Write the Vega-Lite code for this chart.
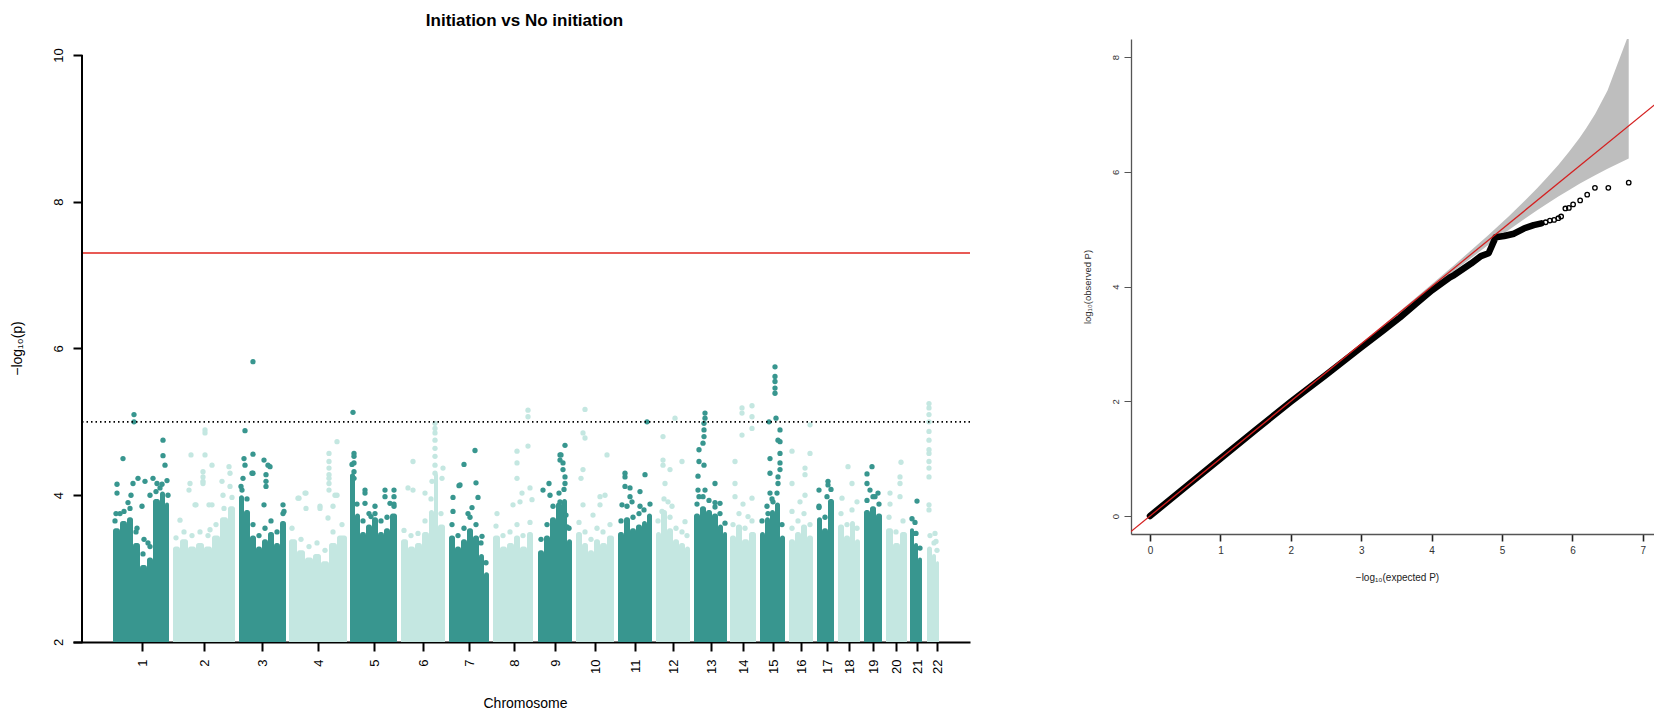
{
"$schema":"https://vega.github.io/schema/vega-lite/v6.json",
"background":"white",
"padding":{"left":10,"top":12,"right":0,"bottom":0},
"spacing":161,
"bounds":"flush",
"align":"none",
"config":{"view":{"stroke":null},"font":"Liberation Sans","axis":{"labelFont":"Liberation Sans","titleFont":"Liberation Sans"},"title":{"font":"Liberation Sans"}},
"datasets":{
"cols":[
{"chr":1,"pos":113,"pos2":120,"p":3.55},{"chr":1,"pos":120,"pos2":127,"p":3.65},{"chr":1,"pos":127,"pos2":133,"p":3.7},{"chr":1,"pos":133,"pos2":140,"p":3.35},{"chr":1,"pos":140,"pos2":147,"p":3.05},{"chr":1,"pos":147,"pos2":153,"p":3.15},{"chr":1,"pos":153,"pos2":160,"p":3.95},{"chr":1,"pos":160,"pos2":165,"p":4.05},{"chr":1,"pos":165,"pos2":169,"p":3.9},
{"chr":2,"pos":173,"pos2":180,"p":3.3},{"chr":2,"pos":180,"pos2":188,"p":3.4},{"chr":2,"pos":188,"pos2":196,"p":3.3},{"chr":2,"pos":196,"pos2":204,"p":3.35},{"chr":2,"pos":204,"pos2":212,"p":3.3},{"chr":2,"pos":212,"pos2":220,"p":3.45},{"chr":2,"pos":220,"pos2":228,"p":3.7},{"chr":2,"pos":228,"pos2":235,"p":3.85},
{"chr":3,"pos":239,"pos2":244,"p":4.0},{"chr":3,"pos":244,"pos2":250,"p":3.8},{"chr":3,"pos":250,"pos2":256,"p":3.45},{"chr":3,"pos":256,"pos2":262,"p":3.3},{"chr":3,"pos":262,"pos2":268,"p":3.4},{"chr":3,"pos":268,"pos2":274,"p":3.5},{"chr":3,"pos":274,"pos2":280,"p":3.35},{"chr":3,"pos":280,"pos2":286,"p":3.65},
{"chr":4,"pos":289,"pos2":297,"p":3.4},{"chr":4,"pos":297,"pos2":305,"p":3.25},{"chr":4,"pos":305,"pos2":313,"p":3.15},{"chr":4,"pos":313,"pos2":321,"p":3.2},{"chr":4,"pos":321,"pos2":329,"p":3.1},{"chr":4,"pos":329,"pos2":337,"p":3.35},{"chr":4,"pos":337,"pos2":347,"p":3.45},
{"chr":5,"pos":350,"pos2":355,"p":4.3},{"chr":5,"pos":355,"pos2":360,"p":3.75},{"chr":5,"pos":360,"pos2":366,"p":3.5},{"chr":5,"pos":366,"pos2":372,"p":3.6},{"chr":5,"pos":372,"pos2":378,"p":3.7},{"chr":5,"pos":378,"pos2":384,"p":3.5},{"chr":5,"pos":384,"pos2":390,"p":3.55},{"chr":5,"pos":390,"pos2":397,"p":3.75},
{"chr":6,"pos":401,"pos2":408,"p":3.4},{"chr":6,"pos":408,"pos2":415,"p":3.3},{"chr":6,"pos":415,"pos2":422,"p":3.35},{"chr":6,"pos":422,"pos2":429,"p":3.5},{"chr":6,"pos":429,"pos2":434,"p":3.8},{"chr":6,"pos":434,"pos2":438,"p":4.3},{"chr":6,"pos":438,"pos2":445,"p":3.6},
{"chr":7,"pos":449,"pos2":455,"p":3.45},{"chr":7,"pos":455,"pos2":461,"p":3.3},{"chr":7,"pos":461,"pos2":467,"p":3.4},{"chr":7,"pos":467,"pos2":473,"p":3.55},{"chr":7,"pos":473,"pos2":479,"p":3.45},{"chr":7,"pos":479,"pos2":484,"p":3.2},{"chr":7,"pos":484,"pos2":489,"p":2.95},
{"chr":8,"pos":493,"pos2":500,"p":3.45},{"chr":8,"pos":500,"pos2":507,"p":3.3},{"chr":8,"pos":507,"pos2":514,"p":3.35},{"chr":8,"pos":514,"pos2":520,"p":3.45},{"chr":8,"pos":520,"pos2":527,"p":3.3},{"chr":8,"pos":527,"pos2":533,"p":3.5},
{"chr":9,"pos":538,"pos2":544,"p":3.25},{"chr":9,"pos":544,"pos2":550,"p":3.45},{"chr":9,"pos":550,"pos2":556,"p":3.7},{"chr":9,"pos":556,"pos2":562,"p":3.9},{"chr":9,"pos":562,"pos2":567,"p":3.95},{"chr":9,"pos":567,"pos2":572,"p":3.4},
{"chr":10,"pos":576,"pos2":582,"p":3.5},{"chr":10,"pos":582,"pos2":588,"p":3.35},{"chr":10,"pos":588,"pos2":594,"p":3.25},{"chr":10,"pos":594,"pos2":600,"p":3.4},{"chr":10,"pos":600,"pos2":607,"p":3.35},{"chr":10,"pos":607,"pos2":614,"p":3.45},
{"chr":11,"pos":618,"pos2":624,"p":3.5},{"chr":11,"pos":624,"pos2":630,"p":3.7},{"chr":11,"pos":630,"pos2":636,"p":3.55},{"chr":11,"pos":636,"pos2":642,"p":3.6},{"chr":11,"pos":642,"pos2":647,"p":3.65},{"chr":11,"pos":647,"pos2":652,"p":3.75},
{"chr":12,"pos":656,"pos2":661,"p":3.5},{"chr":12,"pos":661,"pos2":667,"p":3.8},{"chr":12,"pos":667,"pos2":673,"p":3.55},{"chr":12,"pos":673,"pos2":679,"p":3.4},{"chr":12,"pos":679,"pos2":685,"p":3.35},{"chr":12,"pos":685,"pos2":690,"p":3.3},
{"chr":13,"pos":694,"pos2":700,"p":3.75},{"chr":13,"pos":700,"pos2":706,"p":3.85},{"chr":13,"pos":706,"pos2":712,"p":3.8},{"chr":13,"pos":712,"pos2":718,"p":3.75},{"chr":13,"pos":718,"pos2":723,"p":3.6},{"chr":13,"pos":723,"pos2":727,"p":3.5},
{"chr":14,"pos":730,"pos2":736,"p":3.45},{"chr":14,"pos":736,"pos2":742,"p":3.6},{"chr":14,"pos":742,"pos2":749,"p":3.4},{"chr":14,"pos":749,"pos2":756,"p":3.5},
{"chr":15,"pos":760,"pos2":765,"p":3.5},{"chr":15,"pos":765,"pos2":770,"p":3.7},{"chr":15,"pos":770,"pos2":775,"p":3.8},{"chr":15,"pos":775,"pos2":780,"p":3.9},{"chr":15,"pos":780,"pos2":785,"p":3.45},
{"chr":16,"pos":789,"pos2":795,"p":3.4},{"chr":16,"pos":795,"pos2":801,"p":3.5},{"chr":16,"pos":801,"pos2":807,"p":3.6},{"chr":16,"pos":807,"pos2":813,"p":3.45},
{"chr":17,"pos":817,"pos2":822,"p":3.7},{"chr":17,"pos":822,"pos2":828,"p":3.55},{"chr":17,"pos":828,"pos2":834,"p":3.95},
{"chr":18,"pos":838,"pos2":844,"p":3.6},{"chr":18,"pos":844,"pos2":850,"p":3.45},{"chr":18,"pos":850,"pos2":855,"p":3.65},{"chr":18,"pos":855,"pos2":860,"p":3.4},
{"chr":19,"pos":864,"pos2":870,"p":3.8},{"chr":19,"pos":870,"pos2":876,"p":3.85},{"chr":19,"pos":876,"pos2":882,"p":3.75},
{"chr":20,"pos":886,"pos2":893,"p":3.55},{"chr":20,"pos":893,"pos2":900,"p":3.35},{"chr":20,"pos":900,"pos2":907,"p":3.5},
{"chr":21,"pos":910,"pos2":914,"p":3.55},{"chr":21,"pos":914,"pos2":918,"p":3.35},{"chr":21,"pos":918,"pos2":922,"p":3.15},
{"chr":22,"pos":927,"pos2":932,"p":3.3},{"chr":22,"pos":932,"pos2":936,"p":3.2},{"chr":22,"pos":936,"pos2":939,"p":3.1}
],
"pts":[
{"chr":1,"pos":117,"p":4.15},{"chr":1,"pos":117,"p":4.03},{"chr":1,"pos":120,"p":3.75},{"chr":1,"pos":123,"p":4.5},{"chr":1,"pos":128,"p":3.9},{"chr":1,"pos":131,"p":4.0},{"chr":1,"pos":133,"p":4.16},{"chr":1,"pos":134,"p":5.0},{"chr":1,"pos":134,"p":5.1},{"chr":1,"pos":138,"p":4.23},{"chr":1,"pos":142,"p":3.85},{"chr":1,"pos":145,"p":4.19},{"chr":1,"pos":150,"p":4.0},{"chr":1,"pos":153,"p":4.23},{"chr":1,"pos":157,"p":4.16},{"chr":1,"pos":160,"p":4.1},{"chr":1,"pos":163,"p":4.75},{"chr":1,"pos":163,"p":4.54},{"chr":1,"pos":165,"p":4.41},{"chr":1,"pos":167,"p":4.2},{"chr":1,"pos":144,"p":3.4},{"chr":1,"pos":148,"p":3.35},{"chr":1,"pos":116,"p":3.75},{"chr":1,"pos":137,"p":3.55},
{"chr":1,"pos":115,"p":3.65},{"chr":1,"pos":124,"p":3.78},{"chr":1,"pos":130,"p":3.82},{"chr":1,"pos":136,"p":3.5},{"chr":1,"pos":143,"p":3.2},{"chr":1,"pos":150,"p":3.3},{"chr":1,"pos":156,"p":4.05},{"chr":1,"pos":162,"p":4.15},{"chr":1,"pos":168,"p":4.0},
{"chr":2,"pos":191,"p":4.55},{"chr":2,"pos":205,"p":4.55},{"chr":2,"pos":205,"p":4.85},{"chr":2,"pos":205,"p":4.89},{"chr":2,"pos":212,"p":4.41},{"chr":2,"pos":203,"p":4.32},{"chr":2,"pos":189,"p":4.07},{"chr":2,"pos":195,"p":3.87},{"chr":2,"pos":209,"p":3.87},{"chr":2,"pos":229,"p":4.39},{"chr":2,"pos":230,"p":4.3},{"chr":2,"pos":222,"p":4.19},{"chr":2,"pos":203,"p":4.19},{"chr":2,"pos":203,"p":4.25},{"chr":2,"pos":196,"p":3.87},{"chr":2,"pos":190,"p":4.16},{"chr":2,"pos":203,"p":4.16},{"chr":2,"pos":212,"p":3.87},{"chr":2,"pos":223,"p":4.0},{"chr":2,"pos":230,"p":4.12},{"chr":2,"pos":180,"p":3.66},{"chr":2,"pos":210,"p":3.53},
{"chr":2,"pos":176,"p":3.42},{"chr":2,"pos":184,"p":3.5},{"chr":2,"pos":192,"p":3.45},{"chr":2,"pos":200,"p":3.5},{"chr":2,"pos":208,"p":3.45},{"chr":2,"pos":216,"p":3.6},{"chr":2,"pos":224,"p":3.82},{"chr":2,"pos":232,"p":3.97},
{"chr":3,"pos":253,"p":5.82},{"chr":3,"pos":245,"p":4.88},{"chr":3,"pos":253,"p":4.56},{"chr":3,"pos":244,"p":4.5},{"chr":3,"pos":245,"p":4.41},{"chr":3,"pos":253,"p":4.3},{"chr":3,"pos":264,"p":4.48},{"chr":3,"pos":268,"p":4.41},{"chr":3,"pos":270,"p":4.39},{"chr":3,"pos":266,"p":4.28},{"chr":3,"pos":266,"p":4.19},{"chr":3,"pos":266,"p":4.12},{"chr":3,"pos":264,"p":3.87},{"chr":3,"pos":283,"p":3.87},{"chr":3,"pos":283,"p":3.75},{"chr":3,"pos":243,"p":4.23},{"chr":3,"pos":242,"p":4.07},{"chr":3,"pos":252,"p":4.3},
{"chr":3,"pos":241,"p":4.12},{"chr":3,"pos":247,"p":3.95},{"chr":3,"pos":253,"p":3.6},{"chr":3,"pos":259,"p":3.45},{"chr":3,"pos":265,"p":3.55},{"chr":3,"pos":271,"p":3.65},{"chr":3,"pos":277,"p":3.5},{"chr":3,"pos":284,"p":3.78},
{"chr":4,"pos":337,"p":4.73},{"chr":4,"pos":329,"p":4.57},{"chr":4,"pos":329,"p":4.46},{"chr":4,"pos":329,"p":4.37},{"chr":4,"pos":329,"p":4.28},{"chr":4,"pos":329,"p":4.23},{"chr":4,"pos":329,"p":4.16},{"chr":4,"pos":337,"p":4.0},{"chr":4,"pos":306,"p":4.03},{"chr":4,"pos":299,"p":3.96},{"chr":4,"pos":320,"p":3.85},{"chr":4,"pos":333,"p":3.85},{"chr":4,"pos":329,"p":4.07},{"chr":4,"pos":306,"p":3.82},{"chr":4,"pos":305,"p":4.03},{"chr":4,"pos":298,"p":3.96},{"chr":4,"pos":320,"p":3.82},{"chr":4,"pos":328,"p":3.69},{"chr":4,"pos":335,"p":4.0},
{"chr":4,"pos":292,"p":3.55},{"chr":4,"pos":301,"p":3.4},{"chr":4,"pos":309,"p":3.3},{"chr":4,"pos":317,"p":3.35},{"chr":4,"pos":325,"p":3.25},{"chr":4,"pos":333,"p":3.5},{"chr":4,"pos":342,"p":3.6},
{"chr":5,"pos":353,"p":5.13},{"chr":5,"pos":354,"p":4.57},{"chr":5,"pos":354,"p":4.53},{"chr":5,"pos":354,"p":4.44},{"chr":5,"pos":354,"p":4.32},{"chr":5,"pos":354,"p":4.23},{"chr":5,"pos":365,"p":4.07},{"chr":5,"pos":365,"p":4.03},{"chr":5,"pos":365,"p":3.89},{"chr":5,"pos":385,"p":4.07},{"chr":5,"pos":394,"p":4.07},{"chr":5,"pos":385,"p":3.98},{"chr":5,"pos":394,"p":3.98},{"chr":5,"pos":390,"p":3.89},{"chr":5,"pos":394,"p":3.85},{"chr":5,"pos":375,"p":3.75},{"chr":5,"pos":371,"p":3.71},
{"chr":5,"pos":352,"p":4.42},{"chr":5,"pos":357,"p":3.88},{"chr":5,"pos":363,"p":3.65},{"chr":5,"pos":369,"p":3.75},{"chr":5,"pos":375,"p":3.85},{"chr":5,"pos":381,"p":3.65},{"chr":5,"pos":387,"p":3.7},{"chr":5,"pos":394,"p":3.88},
{"chr":6,"pos":435,"p":4.98},{"chr":6,"pos":435,"p":4.91},{"chr":6,"pos":435,"p":4.85},{"chr":6,"pos":435,"p":4.75},{"chr":6,"pos":435,"p":4.64},{"chr":6,"pos":435,"p":4.53},{"chr":6,"pos":435,"p":4.41},{"chr":6,"pos":435,"p":4.3},{"chr":6,"pos":413,"p":4.46},{"chr":6,"pos":443,"p":4.37},{"chr":6,"pos":442,"p":4.23},{"chr":6,"pos":408,"p":4.1},{"chr":6,"pos":413,"p":4.07},{"chr":6,"pos":432,"p":4.19},{"chr":6,"pos":425,"p":4.03},
{"chr":6,"pos":404,"p":3.52},{"chr":6,"pos":411,"p":3.45},{"chr":6,"pos":418,"p":3.48},{"chr":6,"pos":425,"p":3.65},{"chr":6,"pos":431,"p":3.95},{"chr":6,"pos":441,"p":3.75},
{"chr":7,"pos":475,"p":4.61},{"chr":7,"pos":464,"p":4.42},{"chr":7,"pos":476,"p":4.17},{"chr":7,"pos":459,"p":4.13},{"chr":7,"pos":453,"p":3.97},{"chr":7,"pos":478,"p":3.97},{"chr":7,"pos":453,"p":3.78},{"chr":7,"pos":472,"p":3.83},{"chr":7,"pos":460,"p":4.14},{"chr":7,"pos":468,"p":3.75},{"chr":7,"pos":482,"p":3.44},
{"chr":7,"pos":452,"p":3.6},{"chr":7,"pos":458,"p":3.45},{"chr":7,"pos":464,"p":3.55},{"chr":7,"pos":470,"p":3.7},{"chr":7,"pos":476,"p":3.6},{"chr":7,"pos":481,"p":3.35},{"chr":7,"pos":486,"p":3.08},
{"chr":8,"pos":528,"p":5.16},{"chr":8,"pos":528,"p":5.07},{"chr":8,"pos":517,"p":4.6},{"chr":8,"pos":528,"p":4.67},{"chr":8,"pos":517,"p":4.44},{"chr":8,"pos":517,"p":4.23},{"chr":8,"pos":530,"p":4.1},{"chr":8,"pos":522,"p":4.03},{"chr":8,"pos":497,"p":3.75},{"chr":8,"pos":520,"p":3.91},{"chr":8,"pos":532,"p":3.94},{"chr":8,"pos":513,"p":3.87},
{"chr":8,"pos":496,"p":3.58},{"chr":8,"pos":503,"p":3.45},{"chr":8,"pos":510,"p":3.5},{"chr":8,"pos":517,"p":3.6},{"chr":8,"pos":523,"p":3.45},{"chr":8,"pos":530,"p":3.63},
{"chr":9,"pos":565,"p":4.68},{"chr":9,"pos":560,"p":4.55},{"chr":9,"pos":560,"p":4.48},{"chr":9,"pos":563,"p":4.44},{"chr":9,"pos":563,"p":4.35},{"chr":9,"pos":565,"p":4.25},{"chr":9,"pos":565,"p":4.16},{"chr":9,"pos":543,"p":4.07},{"chr":9,"pos":549,"p":4.16},{"chr":9,"pos":561,"p":4.55},{"chr":9,"pos":550,"p":4.0},{"chr":9,"pos":560,"p":3.91},{"chr":9,"pos":566,"p":3.73},{"chr":9,"pos":567,"p":3.57},
{"chr":9,"pos":541,"p":3.4},{"chr":9,"pos":547,"p":3.6},{"chr":9,"pos":553,"p":3.85},{"chr":9,"pos":559,"p":4.03},{"chr":9,"pos":564,"p":4.08},{"chr":9,"pos":569,"p":3.55},
{"chr":10,"pos":585,"p":5.17},{"chr":10,"pos":583,"p":4.85},{"chr":10,"pos":585,"p":4.78},{"chr":10,"pos":583,"p":4.35},{"chr":10,"pos":581,"p":4.23},{"chr":10,"pos":607,"p":4.55},{"chr":10,"pos":605,"p":4.0},{"chr":10,"pos":600,"p":3.87},{"chr":10,"pos":583,"p":3.87},{"chr":10,"pos":593,"p":3.73},{"chr":10,"pos":600,"p":3.98},
{"chr":10,"pos":579,"p":3.63},{"chr":10,"pos":585,"p":3.5},{"chr":10,"pos":591,"p":3.4},{"chr":10,"pos":597,"p":3.55},{"chr":10,"pos":603,"p":3.5},{"chr":10,"pos":610,"p":3.6},
{"chr":11,"pos":647,"p":5.0},{"chr":11,"pos":625,"p":4.3},{"chr":11,"pos":625,"p":4.25},{"chr":11,"pos":645,"p":4.28},{"chr":11,"pos":625,"p":4.12},{"chr":11,"pos":630,"p":4.1},{"chr":11,"pos":630,"p":3.98},{"chr":11,"pos":640,"p":4.05},{"chr":11,"pos":622,"p":3.87},{"chr":11,"pos":640,"p":3.85},{"chr":11,"pos":632,"p":3.91},
{"chr":11,"pos":621,"p":3.65},{"chr":11,"pos":627,"p":3.85},{"chr":11,"pos":633,"p":3.7},{"chr":11,"pos":639,"p":3.75},{"chr":11,"pos":644,"p":3.8},{"chr":11,"pos":650,"p":3.88},
{"chr":12,"pos":675,"p":5.05},{"chr":12,"pos":663,"p":4.8},{"chr":12,"pos":663,"p":4.48},{"chr":12,"pos":663,"p":4.41},{"chr":12,"pos":670,"p":4.35},{"chr":12,"pos":682,"p":4.46},{"chr":12,"pos":668,"p":3.91},{"chr":12,"pos":672,"p":3.85},{"chr":12,"pos":662,"p":3.78},{"chr":12,"pos":685,"p":3.64},{"chr":12,"pos":665,"p":4.16},
{"chr":12,"pos":658,"p":3.65},{"chr":12,"pos":664,"p":3.95},{"chr":12,"pos":670,"p":3.7},{"chr":12,"pos":676,"p":3.55},{"chr":12,"pos":682,"p":3.5},{"chr":12,"pos":687,"p":3.45},
{"chr":13,"pos":705,"p":5.12},{"chr":13,"pos":705,"p":5.05},{"chr":13,"pos":704,"p":4.98},{"chr":13,"pos":704,"p":4.89},{"chr":13,"pos":704,"p":4.8},{"chr":13,"pos":703,"p":4.71},{"chr":13,"pos":699,"p":4.62},{"chr":13,"pos":699,"p":4.46},{"chr":13,"pos":704,"p":4.41},{"chr":13,"pos":698,"p":4.26},{"chr":13,"pos":715,"p":4.16},{"chr":13,"pos":698,"p":4.07},{"chr":13,"pos":705,"p":4.07},{"chr":13,"pos":699,"p":3.98},{"chr":13,"pos":720,"p":3.89},{"chr":13,"pos":715,"p":3.84},
{"chr":13,"pos":697,"p":3.88},{"chr":13,"pos":703,"p":3.98},{"chr":13,"pos":709,"p":3.93},{"chr":13,"pos":715,"p":3.9},{"chr":13,"pos":720,"p":3.75},{"chr":13,"pos":725,"p":3.62},
{"chr":14,"pos":742,"p":5.19},{"chr":14,"pos":742,"p":5.12},{"chr":14,"pos":752,"p":5.22},{"chr":14,"pos":752,"p":5.07},{"chr":14,"pos":752,"p":4.91},{"chr":14,"pos":742,"p":4.82},{"chr":14,"pos":735,"p":4.46},{"chr":14,"pos":735,"p":4.16},{"chr":14,"pos":735,"p":3.98},{"chr":14,"pos":752,"p":3.96},{"chr":14,"pos":743,"p":3.88},{"chr":14,"pos":748,"p":3.71},
{"chr":14,"pos":733,"p":3.6},{"chr":14,"pos":739,"p":3.75},{"chr":14,"pos":745,"p":3.55},{"chr":14,"pos":752,"p":3.65},
{"chr":15,"pos":775,"p":5.75},{"chr":15,"pos":775,"p":5.62},{"chr":15,"pos":775,"p":5.55},{"chr":15,"pos":775,"p":5.46},{"chr":15,"pos":775,"p":5.39},{"chr":15,"pos":769,"p":5.0},{"chr":15,"pos":776,"p":5.05},{"chr":15,"pos":780,"p":4.89},{"chr":15,"pos":778,"p":4.75},{"chr":15,"pos":780,"p":4.73},{"chr":15,"pos":770,"p":4.5},{"chr":15,"pos":780,"p":4.57},{"chr":15,"pos":780,"p":4.44},{"chr":15,"pos":780,"p":4.35},{"chr":15,"pos":770,"p":4.3},{"chr":15,"pos":778,"p":4.25},{"chr":15,"pos":778,"p":4.16},{"chr":15,"pos":770,"p":4.03},{"chr":15,"pos":773,"p":3.91},{"chr":15,"pos":768,"p":3.75},
{"chr":15,"pos":762,"p":3.65},{"chr":15,"pos":767,"p":3.85},{"chr":15,"pos":772,"p":3.95},{"chr":15,"pos":777,"p":4.03},{"chr":15,"pos":782,"p":3.6},
{"chr":16,"pos":810,"p":4.96},{"chr":16,"pos":792,"p":4.6},{"chr":16,"pos":810,"p":4.57},{"chr":16,"pos":805,"p":4.37},{"chr":16,"pos":805,"p":4.28},{"chr":16,"pos":792,"p":4.16},{"chr":16,"pos":805,"p":4.0},{"chr":16,"pos":800,"p":3.91},{"chr":16,"pos":792,"p":3.78},
{"chr":16,"pos":792,"p":3.55},{"chr":16,"pos":798,"p":3.65},{"chr":16,"pos":804,"p":3.75},{"chr":16,"pos":810,"p":3.6},
{"chr":17,"pos":828,"p":4.19},{"chr":17,"pos":828,"p":4.14},{"chr":17,"pos":819,"p":4.07},{"chr":17,"pos":819,"p":3.85},{"chr":17,"pos":827,"p":3.98},
{"chr":17,"pos":819,"p":3.83},{"chr":17,"pos":825,"p":3.7},{"chr":17,"pos":831,"p":4.08},
{"chr":18,"pos":848,"p":4.39},{"chr":18,"pos":852,"p":4.16},{"chr":18,"pos":842,"p":3.96},{"chr":18,"pos":857,"p":3.91},
{"chr":18,"pos":841,"p":3.75},{"chr":18,"pos":847,"p":3.6},{"chr":18,"pos":852,"p":3.8},{"chr":18,"pos":857,"p":3.55},
{"chr":19,"pos":872,"p":4.39},{"chr":19,"pos":867,"p":4.29},{"chr":19,"pos":867,"p":4.16},{"chr":19,"pos":878,"p":4.03},{"chr":19,"pos":870,"p":4.07},{"chr":19,"pos":875,"p":3.98},
{"chr":19,"pos":867,"p":3.93},{"chr":19,"pos":873,"p":3.98},{"chr":19,"pos":879,"p":3.88},
{"chr":20,"pos":901,"p":4.45},{"chr":20,"pos":900,"p":4.25},{"chr":20,"pos":900,"p":4.16},{"chr":20,"pos":900,"p":3.98},{"chr":20,"pos":890,"p":4.03},{"chr":20,"pos":890,"p":3.88},
{"chr":20,"pos":889,"p":3.7},{"chr":20,"pos":896,"p":3.5},{"chr":20,"pos":903,"p":3.65},
{"chr":21,"pos":917,"p":3.92},{"chr":21,"pos":915,"p":3.63},{"chr":21,"pos":913,"p":3.48},
{"chr":21,"pos":912,"p":3.68},{"chr":21,"pos":916,"p":3.48},{"chr":21,"pos":920,"p":3.28},
{"chr":22,"pos":929,"p":5.25},{"chr":22,"pos":929,"p":5.19},{"chr":22,"pos":929,"p":5.1},{"chr":22,"pos":929,"p":5.0},{"chr":22,"pos":929,"p":4.87},{"chr":22,"pos":929,"p":4.75},{"chr":22,"pos":929,"p":4.62},{"chr":22,"pos":929,"p":4.57},{"chr":22,"pos":929,"p":4.46},{"chr":22,"pos":929,"p":4.37},{"chr":22,"pos":929,"p":4.25},{"chr":22,"pos":929,"p":3.87},{"chr":22,"pos":929,"p":3.8},{"chr":22,"pos":935,"p":3.48},{"chr":22,"pos":936,"p":3.37},
{"chr":22,"pos":930,"p":3.45},{"chr":22,"pos":934,"p":3.35},{"chr":22,"pos":937,"p":3.25}
],
"band":[
{"e":2.8,"o":2.791,"o2":2.809},{"e":3.323,"o":3.308,"o2":3.339},{"e":3.8,"o":3.773,"o2":3.828},{"e":4.323,"o":4.274,"o2":4.374},{"e":4.8,"o":4.718,"o2":4.89},{"e":5.101,"o":4.989,"o2":5.23},{"e":5.323,"o":5.179,"o2":5.494},{"e":5.499,"o":5.328,"o2":5.713},{"e":5.624,"o":5.429,"o2":5.876},{"e":5.8,"o":5.568,"o2":6.119},{"e":5.955,"o":5.681,"o2":6.351},{"e":6.101,"o":5.79,"o2":6.59},{"e":6.198,"o":5.857,"o2":6.763},{"e":6.323,"o":5.941,"o2":7.008},{"e":6.499,"o":6.054,"o2":7.416},{"e":6.8,"o":6.233,"o2":8.397}
],
"qqbody":[
{"e":0,"o":0},{"e":0.5,"o":0.5},{"e":1,"o":1},{"e":1.5,"o":1.5},{"e":2,"o":1.99},{"e":2.5,"o":2.46},{"e":2.98,"o":2.92},{"e":3.31,"o":3.23},{"e":3.55,"o":3.46},{"e":3.79,"o":3.71},{"e":4.0,"o":3.93},{"e":4.26,"o":4.16},{"e":4.32,"o":4.2},{"e":4.56,"o":4.4},{"e":4.7,"o":4.53},{"e":4.81,"o":4.58},{"e":4.86,"o":4.72},{"e":4.91,"o":4.86},{"e":5.03,"o":4.88},{"e":5.17,"o":4.92},{"e":5.31,"o":5.01},{"e":5.45,"o":5.07},{"e":5.56,"o":5.1}
],
"qqtail":[
{"e":5.62,"o":5.12},{"e":5.68,"o":5.15},{"e":5.74,"o":5.16},{"e":5.8,"o":5.19},{"e":5.84,"o":5.22},{"e":5.9,"o":5.36},{"e":5.95,"o":5.37},{"e":6.01,"o":5.43},{"e":6.11,"o":5.5},{"e":6.21,"o":5.6},{"e":6.32,"o":5.72},{"e":6.51,"o":5.72},{"e":6.8,"o":5.81}
],
"diag":[{"e":-0.5,"o":-0.5},{"e":7.5,"o":7.5}],
"one":[{"k":1}]
},
"hconcat":[
{
"width":897,"height":603,
"title":{"text":"Initiation vs No initiation","fontSize":17,"fontWeight":"bold","color":"black","anchor":"middle","frame":"group","baseline":"bottom","offset":-8,"dx":3},
"layer":[
{"data":{"name":"cols"},"mark":{"type":"rect","cornerRadiusTopLeft":2.5,"cornerRadiusTopRight":2.5},
"encoding":{
"x":{"field":"pos","type":"quantitative","title":"Chromosome","scale":{"domain":[73,970],"nice":false,"zero":false},
"axis":{"values":[142,204,262,318,374,423,469,514,555,595,635,673,711,743,773,801,827,849,873,896,917,937],
"labelExpr":"indexof([142,204,262,318,374,423,469,514,555,595,635,673,711,743,773,801,827,849,873,896,917,937], datum.value) + 1",
"grid":false,"domainColor":"black","domainWidth":2,"tickColor":"black","tickWidth":2,"tickSize":9,"labelAngle":270,"labelAlign":"right","labelBaseline":"middle","labelPadding":8,"labelFontSize":13,"labelColor":"black","labelOverlap":false,"labelFlush":false,"titleFontSize":14,"titleFontWeight":"normal","titleColor":"black","titleBaseline":"middle","titleX":452,"titleY":61}},
"x2":{"field":"pos2"},
"y":{"field":"p","type":"quantitative","title":"−log₁₀(p)","scale":{"domain":[2,10.218],"nice":false,"zero":false},
"axis":{"values":[2,4,6,8,10],"format":"d","domain":false,"offset":-9,"grid":false,"tickColor":"black","tickWidth":2,"tickSize":9,"labelAngle":270,"labelAlign":"center","labelBaseline":"bottom","labelPadding":8,"labelFontSize":13,"labelColor":"black","titleFontSize":14,"titleFontWeight":"normal","titleColor":"black","titleAngle":270,"titleAlign":"center","titleBaseline":"middle","titleX":-65,"titleY":309}},
"y2":{"datum":2},
"color":{"field":"chr","type":"ordinal","legend":null,"scale":{"domain":[1,2,3,4,5,6,7,8,9,10,11,12,13,14,15,16,17,18,19,20,21,22],"range":["#38968f","#c4e7e1","#38968f","#c4e7e1","#38968f","#c4e7e1","#38968f","#c4e7e1","#38968f","#c4e7e1","#38968f","#c4e7e1","#38968f","#c4e7e1","#38968f","#c4e7e1","#38968f","#c4e7e1","#38968f","#c4e7e1","#38968f","#c4e7e1"]}}
}},
{"data":{"name":"pts"},"mark":{"type":"circle","size":28,"opacity":1},
"encoding":{"x":{"field":"pos","type":"quantitative"},"y":{"field":"p","type":"quantitative"},
"color":{"field":"chr","type":"ordinal","legend":null}}},
{"data":{"name":"one"},"mark":{"type":"rule","color":"#e0231c","strokeWidth":1.5},"encoding":{"x":{"datum":82},"x2":{"datum":970},"y":{"datum":7.3}}},
{"data":{"name":"one"},"mark":{"type":"rule","color":"black","strokeWidth":1.6,"strokeDash":[1.5,3]},"encoding":{"x":{"datum":82},"x2":{"datum":970},"y":{"datum":5}}},
{"data":{"name":"one"},"mark":{"type":"rule","color":"black","strokeWidth":2},"encoding":{"x":{"datum":82},"y":{"datum":2},"y2":{"datum":10}}}
]
},
{
"width":523,"height":495,
"layer":[
{"data":{"name":"band"},"mark":{"type":"area","color":"#bebebe","clip":true,"opacity":1},
"encoding":{
"x":{"field":"e","type":"quantitative","title":"−log₁₀(expected P)","scale":{"domain":[-0.27,7.159],"nice":false,"zero":false},
"axis":{"values":[0,1,2,3,4,5,6,7],"format":"d","grid":false,"domainColor":"#555","domainWidth":1.3,"tickColor":"#222","tickWidth":1.6,"tickSize":7,"labelFontSize":10,"labelColor":"#333","labelPadding":4,"labelFlush":false,"titleFontSize":10,"titleFontWeight":"normal","titleColor":"#222","titleBaseline":"middle","titleX":266,"titleY":43}},
"y":{"field":"o","type":"quantitative","title":"log₁₀(observed P)","scale":{"domain":[-0.314,8.314],"nice":false,"zero":false},
"axis":{"values":[0,2,4,6,8],"format":"d","grid":false,"domainColor":"#555","domainWidth":1.3,"tickColor":"#555","tickWidth":1,"tickSize":7,"labelAngle":270,"labelAlign":"center","labelBaseline":"bottom","labelPadding":4,"labelFontSize":9.5,"labelColor":"#333","labelFlush":false,"titleFontSize":9.5,"titleFontWeight":"normal","titleColor":"#333","titleAngle":270,"titleAlign":"center","titleBaseline":"middle","titleX":-44,"titleY":247.5}},
"y2":{"field":"o2"}
}},
{"data":{"name":"qqbody"},"mark":{"type":"line","color":"black","strokeWidth":6.5,"strokeCap":"round","strokeJoin":"round","clip":true},
"encoding":{"x":{"field":"e","type":"quantitative"},"y":{"field":"o","type":"quantitative"}}},
{"data":{"name":"qqtail"},"mark":{"type":"point","shape":"circle","filled":false,"color":"black","size":20,"strokeWidth":1.3,"opacity":1},
"encoding":{"x":{"field":"e","type":"quantitative"},"y":{"field":"o","type":"quantitative"}}},
{"data":{"name":"diag"},"mark":{"type":"line","color":"#d42020","strokeWidth":1.3,"clip":true},
"encoding":{"x":{"field":"e","type":"quantitative"},"y":{"field":"o","type":"quantitative"}}}
]
}
]
}
